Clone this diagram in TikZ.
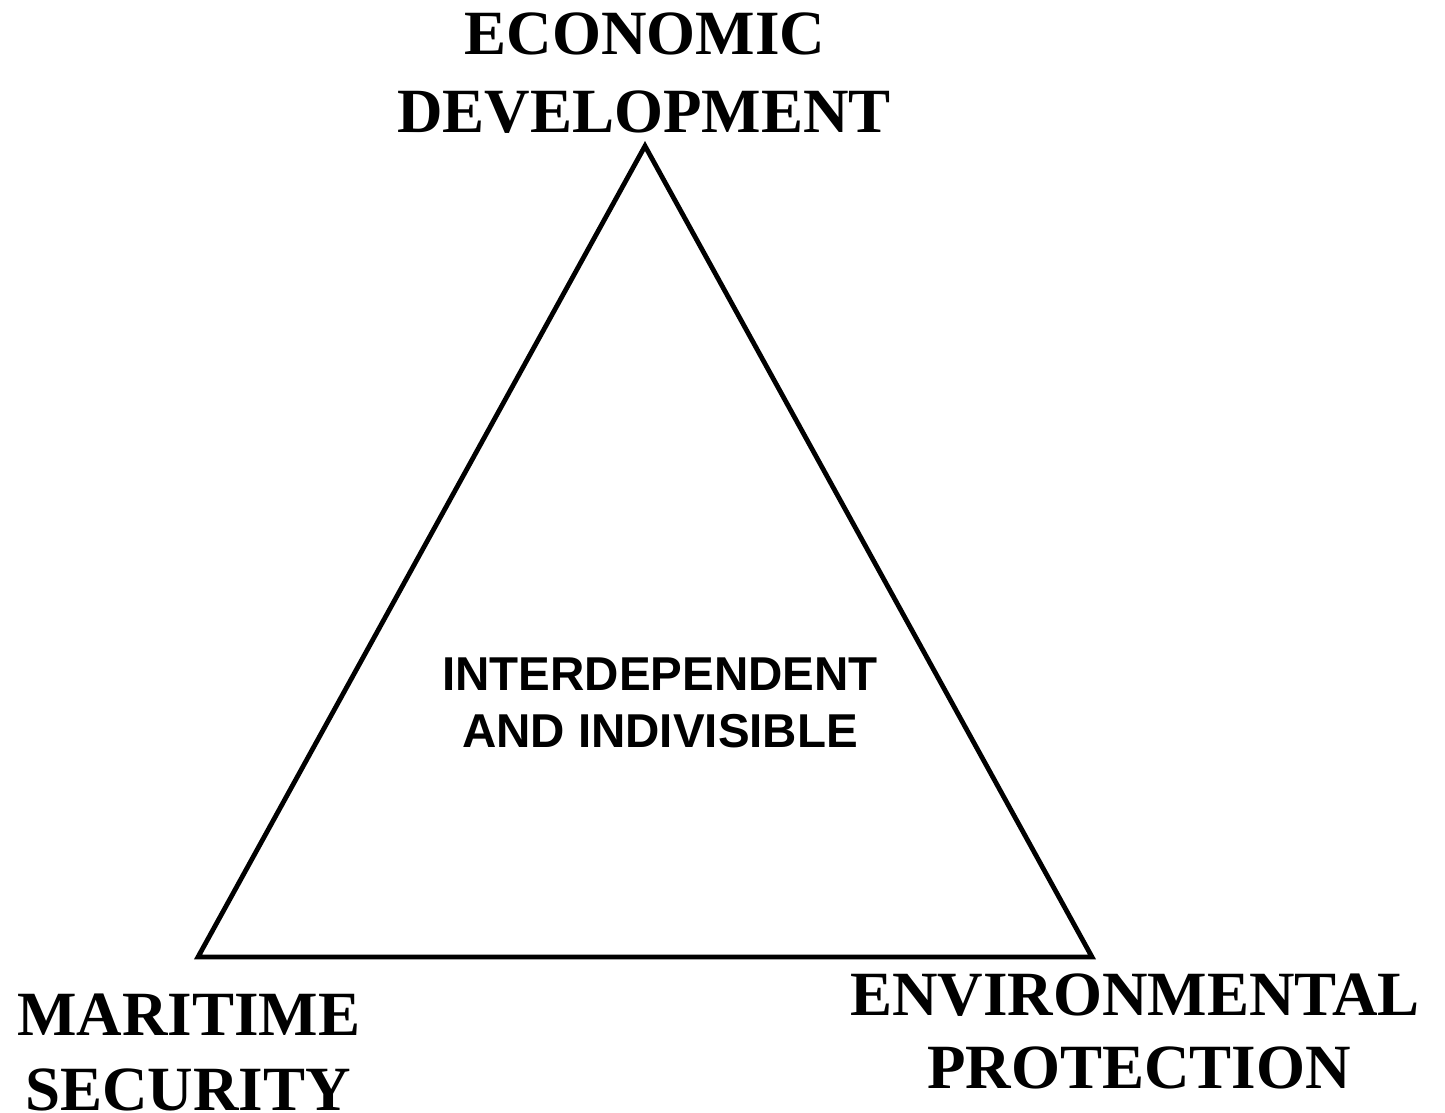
\documentclass[tikz,border=0pt]{standalone}
\usepackage{fontspec}
\setmainfont{Liberation Serif}
\newfontfamily\labsans{Liberation Sans}
\begin{document}
\begin{tikzpicture}[x=1pt,y=-1pt,
  corner/.style={font=\fontsize{63}{75}\selectfont\bfseries, inner sep=0pt, anchor=base},
  inner/.style={font=\labsans\fontsize{47.5}{57}\selectfont\bfseries, inner sep=0pt, anchor=base},
  edge/.style={line width=4.8pt, line join=miter}]
\useasboundingbox (0,0) rectangle (1445,1113);
\coordinate (top) at (645,146);
\coordinate (bl) at (198,957);
\coordinate (br) at (1092,957);
\draw[edge] (top) -- (bl) -- (br) -- cycle;
\node[corner] (ed1) at (645,55) {ECONOMIC};
\node[corner] (ed2) at (644,132) {DEVELOPMENT};
\node[corner] (ms1) at (189,1035) {MARITIME};
\node[corner] (ms2) at (188,1110) {SECURITY};
\node[corner] (ep1) at (1135,1015) {ENVIRONMENTAL};
\node[corner] (ep2) at (1139,1088) {PROTECTION};
\node[inner] (c1) at (660,690) {INTERDEPENDENT};
\node[inner] (c2) at (660,747) {AND INDIVISIBLE};
\end{tikzpicture}
\end{document}
